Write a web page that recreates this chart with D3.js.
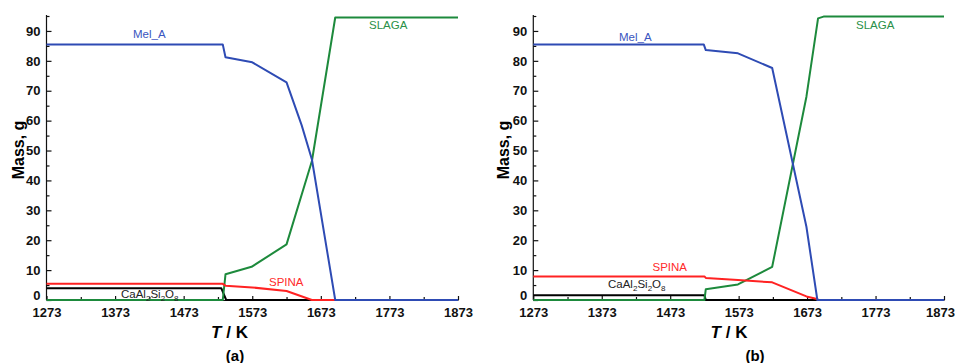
<!DOCTYPE html>
<html>
<head>
<meta charset="utf-8">
<script src="https://cdn.jsdelivr.net/npm/d3@7"></script>
<style>
  body { margin: 0; background: #fff; }
  svg { font-family: "Liberation Sans", Arial, sans-serif; }
  .axis text { font-size: 13px; font-weight: bold; fill: #111; }
  .axis path, .axis line { stroke: #111; stroke-width: 1.2; }
</style>
</head>
<body>
<figure style="margin:0"></figure>
<script>
const width = 955;
const height = 363;

const xTicks = [1273, 1373, 1473, 1573, 1673, 1773, 1873];
const xMinor = [1323, 1423, 1523, 1623, 1723, 1823];
const yTicks = [0, 10, 20, 30, 40, 50, 60, 70, 80, 90];
const yMinor = [5, 15, 25, 35, 45, 55, 65, 75, 85, 95];

// panel (a) - [T, mass]
const melA_a = [[1273, 85.5], [1530, 85.5], [1534, 81.2], [1573, 79.5], [1623, 72.8], [1645, 58.5], [1660, 47], [1694, 0], [1873, 0]];
const slaga_a = [[1273, 0], [1530, 0], [1534, 8.6], [1572, 11.1], [1623, 18.6], [1660, 46.5], [1694, 94.5], [1873, 94.5]];
const spina_a = [[1273, 5.4], [1530, 5.4], [1534, 4.8], [1573, 4.2], [1623, 3.0], [1660, 0], [1873, 0]];
const caal_a = [[1273, 3.9], [1528, 3.9], [1535, 0], [1873, 0]];

// panel (b)
const melA_b = [[1273, 85.5], [1522, 85.5], [1525, 83.6], [1572, 82.5], [1622, 77.6], [1672, 24.5], [1688, 0], [1873, 0]];
const slaga_b = [[1273, 0], [1523, 0], [1525, 3.6], [1572, 5.2], [1622, 11.1], [1672, 68], [1689, 94.2], [1697, 94.8], [1873, 94.8]];
const spina_b = [[1273, 7.9], [1523, 7.9], [1525, 7.4], [1572, 6.7], [1622, 5.9], [1672, 1.2], [1686, 0.4], [1690, 0], [1873, 0]];
const caal_b = [[1273, 1.6], [1523, 1.6], [1525, 0], [1873, 0]];

const colors = {
  mel: "#2e4bb4",
  slaga: "#1d8a3c",
  spina: "#ff2222",
  caal: "#000000",
};

const svg = d3.select("figure").append("svg").attr("width", width).attr("height", height);

const drawPanel = (cfg) => {
  const x = d3.scaleLinear().domain([1273, 1873]).range(cfg.xRange);
  const y = d3.scaleLinear().domain([0, 95]).range([300, 16]);

  const g = svg.append("g");

  // minor ticks
  g.append("g")
    .attr("class", "axis")
    .attr("transform", "translate(0,300)")
    .call(d3.axisBottom(x).tickValues(xMinor).tickSize(-3).tickFormat(""))
    .select(".domain").remove();
  g.append("g")
    .attr("class", "axis")
    .attr("transform", `translate(${cfg.xRange[0]},0)`)
    .call(d3.axisLeft(y).tickValues(yMinor).tickSize(-3).tickFormat(""))
    .select(".domain").remove();

  const xAxis = g.append("g")
    .attr("class", "axis")
    .attr("transform", "translate(0,300)")
    .call(d3.axisBottom(x).tickValues(xTicks).tickFormat(d3.format("d"))
      .tickSizeInner(-4).tickSizeOuter(0).tickPadding(8));
  xAxis.selectAll(".tick text").filter((d) => d === 1873).attr("dx", cfg.lastDx);

  const yAxis = g.append("g")
    .attr("class", "axis")
    .attr("transform", `translate(${cfg.xRange[0]},0)`)
    .call(d3.axisLeft(y).tickValues(yTicks).tickSizeInner(-5).tickSizeOuter(0).tickPadding(6));
  yAxis.select(".domain").attr("d", `M0,${y(0)}V${y(95.3)}`);
  yAxis.selectAll(".tick text").filter((d) => d === 0).attr("dy", "-0.05em");

  const line = d3.line().x((d) => x(d[0])).y((d) => y(d[1]));

  const series = [
    [cfg.caal, colors.caal],
    [cfg.slaga, colors.slaga],
    [cfg.spina, colors.spina],
    [cfg.mel, colors.mel],
  ];
  series.forEach(([data, c]) => {
    g.append("path")
      .datum(data)
      .attr("d", line)
      .attr("fill", "none")
      .attr("stroke", c)
      .attr("stroke-width", 2)
      .attr("stroke-linejoin", "round");
  });

  // curve labels
  const label = (t, px, py, c) =>
    g.append("text").attr("x", px).attr("y", py).attr("fill", c)
      .style("font-size", "11.5px").text(t);
  label("Mel_A", cfg.melLab[0], cfg.melLab[1], "#3a55c0");
  label("SLAGA", cfg.slagaLab[0], cfg.slagaLab[1], "#2a9048");
  label("SPINA", cfg.spinaLab[0], cfg.spinaLab[1], "#ff2a2a");

  const ca = g.append("text").attr("x", cfg.caLab[0]).attr("y", cfg.caLab[1])
    .attr("fill", "#222").style("font-size", "11.5px");
  [["CaAl", 0], ["2", 1], ["Si", 0], ["2", 1], ["O", 0], ["8", 1]].forEach(([t, sub], i, arr) => {
    const prevSub = i > 0 ? arr[i - 1][1] : 0;
    ca.append("tspan")
      .attr("dy", sub === prevSub ? 0 : (sub ? 3 : -3))
      .style("font-size", sub ? "8px" : "11.5px")
      .text(t);
  });

  // axis titles
  g.append("text")
    .attr("transform", `translate(${cfg.yTitleX},150) rotate(-90)`)
    .attr("text-anchor", "middle")
    .attr("dominant-baseline", "central")
    .style("font-size", "16px").style("font-weight", "bold")
    .text("Mass, g");

  const xt = g.append("text")
    .attr("x", cfg.xTitleX).attr("y", 337.5)
    .attr("text-anchor", "middle")
    .style("font-size", "17px").style("font-weight", "bold");
  xt.append("tspan").style("font-style", "italic").text("T");
  xt.append("tspan").text(" / K");

  g.append("text")
    .attr("x", cfg.capX).attr("y", 360.5)
    .attr("text-anchor", "middle")
    .style("font-size", "15px").style("font-weight", "bold")
    .text(cfg.cap);
};

drawPanel({
  xRange: [46.5, 458],
  mel: melA_a, slaga: slaga_a, spina: spina_a, caal: caal_a,
  melLab: [133, 38], slagaLab: [369, 29], spinaLab: [269, 286], caLab: [121, 297.5],
  yTitleX: 18, xTitleX: 229.5, capX: 235, cap: "(a)", lastDx: 0,
});

drawPanel({
  xRange: [533.3, 944],
  mel: melA_b, slaga: slaga_b, spina: spina_b, caal: caal_b,
  melLab: [619, 41], slagaLab: [856, 29], spinaLab: [652.5, 271], caLab: [608, 288],
  yTitleX: 503, xTitleX: 729, capX: 755, cap: "(b)", lastDx: -4,
});
</script>
</body>
</html>
